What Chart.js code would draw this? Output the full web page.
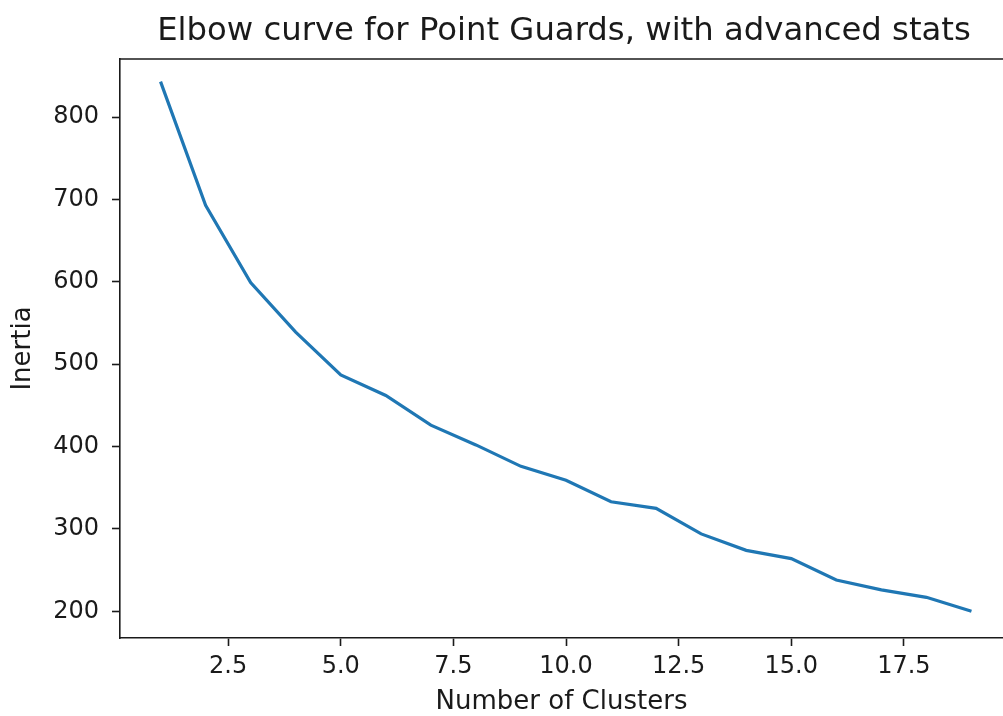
<!DOCTYPE html>
<html>
<head>
<meta charset="utf-8">
<script src="https://cdn.jsdelivr.net/npm/chart.js@4.4.0/dist/chart.umd.min.js"></script>
<style>
  html, body { margin: 0; padding: 0; background: #fff; overflow: hidden; }
  canvas { display: block; }
</style>
</head>
<body>
<canvas id="elbow" width="1003" height="716"></canvas>
<script>
/* Elbow curve — k-means inertia for point guards */

const clusters = [1, 2, 3, 4, 5, 6, 7, 8, 9, 10, 11, 12, 13, 14, 15, 16, 17, 18, 19];
const inertia = [843, 693, 599, 539, 487, 462, 426, 402, 376, 359, 333, 325, 294, 274, 264, 238, 226, 217, 200];
const xTicks = [2.5, 5.0, 7.5, 10.0, 12.5, 15.0, 17.5];
const yTicks = [200, 300, 400, 500, 600, 700, 800];
const TITLE = 'Elbow curve for Point Guards, with advanced stats';

const FONT = 'DejaVu Sans';
const INK = '#1a1a1a';

// top spine + title; the picture is cropped before the right spine
const frame = {
  id: 'frame',
  afterDraw(chart) {
    const { ctx, chartArea: a } = chart;
    ctx.save();
    ctx.strokeStyle = INK;
    ctx.lineWidth = 1.6;
    ctx.beginPath();
    ctx.moveTo(a.left, a.top);
    ctx.lineTo(a.right + 2, a.top);
    ctx.stroke();
    ctx.fillStyle = INK;
    ctx.font = '32.3px "' + FONT + '"';
    ctx.textAlign = 'center';
    ctx.textBaseline = 'middle';
    // axes run on to about x=1012, past the crop
    ctx.fillText(TITLE, 564, 32);
    ctx.restore();
  }
};

new Chart(document.getElementById('elbow'), {
  type: 'line',
  data: {
    datasets: [{
      data: clusters.map((c, i) => ({ x: c, y: inertia[i] })),
      borderColor: '#1f77b4',
      borderWidth: 3.2,
      pointRadius: 0,
      tension: 0,
      fill: false
    }]
  },
  options: {
    responsive: false,
    animation: false,
    layout: { padding: { top: 59, left: 0, right: 0, bottom: 0 } },
    plugins: {
      legend: { display: false },
      tooltip: { enabled: false },
      title: { display: false }
    },
    scales: {
      x: {
        type: 'linear',
        min: 0.1, max: 19.7,
        afterBuildTicks: s => { s.ticks = xTicks.map(v => ({ value: v })); },
        afterFit: s => { s.height = 78; },
        ticks: {
          color: INK, padding: 6, maxRotation: 0,
          font: { family: FONT, size: 24 },
          callback: v => v.toFixed(1)
        },
        grid: { drawOnChartArea: false, drawTicks: true, tickLength: 8, tickColor: INK, tickWidth: 1.6 },
        border: { display: true, color: INK, width: 1.6 },
        title: {
          display: true, text: 'Number of Clusters', color: INK,
          font: { family: FONT, size: 26, lineHeight: 1 },
          padding: { top: 0, bottom: 1 }
        }
      },
      y: {
        type: 'linear',
        min: 167.6, max: 870.5,
        afterBuildTicks: s => { s.ticks = yTicks.map(v => ({ value: v })); },
        afterFit: s => { s.width = 120; },
        ticks: {
          color: INK, padding: 13,
          font: { family: FONT, size: 24 }
        },
        grid: { drawOnChartArea: false, drawTicks: true, tickLength: 8, tickColor: INK, tickWidth: 1.6 },
        border: { display: true, color: INK, width: 1.6 },
        title: {
          display: true, text: 'Inertia', color: INK,
          font: { family: FONT, size: 26, lineHeight: 1 },
          padding: { top: 10, bottom: 0 }
        }
      }
    }
  },
  plugins: [frame]
});
</script>
</body>
</html>
